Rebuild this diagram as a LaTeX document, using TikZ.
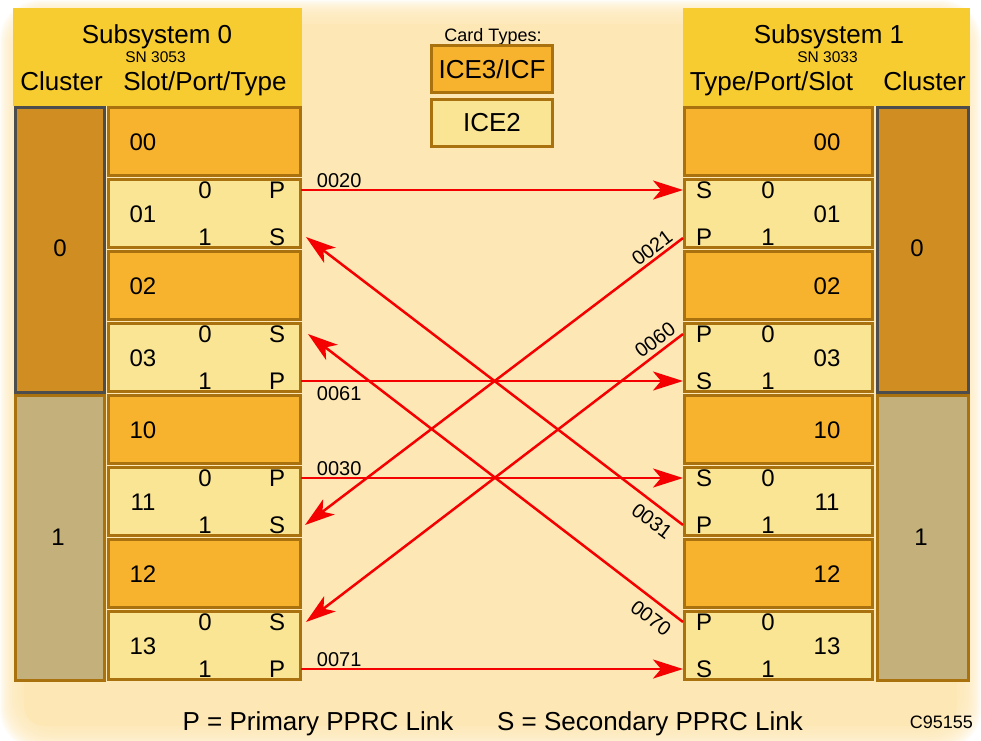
\documentclass[tikz,border=0pt]{standalone}
\usepackage{fontspec}
\setmainfont{Liberation Sans}
\usetikzlibrary{arrows.meta,calc}
\definecolor{peach}{HTML}{FDE7B5}
\definecolor{hdr}{HTML}{F6CC30}
\definecolor{icethree}{HTML}{F8B32E}
\definecolor{icetwo}{HTML}{FAE594}
\definecolor{bord}{HTML}{A9720F}
\definecolor{clzero}{HTML}{D08E22}
\definecolor{clone}{HTML}{C4B07A}
\definecolor{grayb}{HTML}{4D4D4D}
\definecolor{linkred}{HTML}{F50000}
\begin{document}
\begin{tikzpicture}[x=1pt,y=-1pt,
  slotbox/.style={draw=bord, line width=3pt, minimum width=192, minimum height=68, inner sep=0, outer sep=0, anchor=north west},
  rslotbox/.style={slotbox, minimum width=188},
  clbox/.style={line width=3pt, minimum width=89, inner sep=0, outer sep=0, anchor=north west},
  hdrbox/.style={fill=hdr, inner sep=0, outer sep=0, anchor=north west},
  big/.style={font=\fontsize{26}{30}\selectfont, inner sep=0, anchor=base},
  small/.style={font=\fontsize{15.5}{18}\selectfont, inner sep=0, anchor=base},
  txt/.style={font=\fontsize{24}{28}\selectfont, inner sep=0},
  lbl/.style={font=\fontsize{20}{24}\selectfont, inner sep=1pt},
  link/.style={draw=linkred, line width=2.5pt, -{Stealth[length=30pt,width=19pt,inset=8pt]}}
]
\useasboundingbox (0,0) rectangle (981,740);
% soft background panel
\foreach \i in {0,...,24}
  \fill[peach, fill opacity=0.1, rounded corners=40] (\i,\i) rectangle ({981-\i},{750-\i});
\fill[peach, rounded corners=20] (24,24) rectangle (957,726);

% headers
\node[hdrbox, minimum width=289, minimum height=98] (hl) at (13,8) {};
\node[hdrbox, minimum width=287, minimum height=98] (hr) at (683,8) {};
\node[big] (sub0) at (157,43) {Subsystem 0};
\node[small] (sn0) at (155.5,62) {SN 3053};
\node[big] (clL) at (61.5,90) {Cluster};
\node[big] (spt) at (205,90) {Slot/Port/Type};
\node[big] (sub1) at (829,43) {Subsystem 1};
\node[small] (sn1) at (827.5,62) {SN 3033};
\node[big] (tps) at (771.5,90) {Type/Port/Slot};
\node[big] (clR) at (924.5,90) {Cluster};

% legend
\node[font=\fontsize{18}{22}\selectfont, inner sep=0, anchor=base] (ct) at (493,41) {Card Types:};
\node[draw=bord, fill=icethree, line width=3pt, minimum width=121, minimum height=47, inner sep=0, font=\fontsize{26}{30}\selectfont] (lg3) at (492,69) {ICE3/ICF};
\node[draw=bord, fill=icetwo, line width=3pt, minimum width=121, minimum height=47, inner sep=0, font=\fontsize{26}{30}\selectfont] (lg2) at (492,123) {ICE2};

% clusters
\node[clbox, draw=grayb, fill=clzero, minimum height=285] (LC0) at (15.5,107.5) {};
\node[clbox, draw=bord, fill=clone, minimum height=285] (LC1) at (15.5,395.5) {};
\node[clbox, draw=grayb, fill=clzero, minimum height=285, minimum width=91] (RC0) at (877.5,107.5) {};
\node[clbox, draw=bord, fill=clone, minimum height=285, minimum width=91] (RC1) at (877.5,395.5) {};
\node[txt] (lc0t) at (60,248) {0};
\node[txt] (lc1t) at (58,537) {1};
\node[txt] (rc0t) at (917,248) {0};
\node[txt] (rc1t) at (921,537) {1};

% slots
\foreach \n/\k [count=\r from 0] in {00/icethree,01/icetwo,02/icethree,03/icetwo,10/icethree,11/icetwo,12/icethree,13/icetwo}{
  \node[slotbox, fill=\k] (L\n) at (108.5,{107.5+72*\r}) {};
  \node[rslotbox, fill=\k] (R\n) at (684.5,{107.5+72*\r}) {};
  \node[txt] (L\n t) at (143,{106+72*\r+36}) {\n};
  \node[txt] (R\n t) at (827,{106+72*\r+36}) {\n};
}
% ports
\foreach \n/\a/\b/\c/\d [count=\q from 0] in {01/P/S/S/P,03/S/P/P/S,11/P/S/S/P,13/S/P/P/S}{
  \node[txt] (L\n d0) at (205,{106+72*(2*\q+1)+12}) {0};
  \node[txt] (L\n d1) at (205,{106+72*(2*\q+1)+59}) {1};
  \node[txt] (L\n s0) at (277,{106+72*(2*\q+1)+12}) {\a};
  \node[txt] (L\n s1) at (277,{106+72*(2*\q+1)+59}) {\b};
  \node[txt] (R\n d0) at (768,{106+72*(2*\q+1)+12}) {0};
  \node[txt] (R\n d1) at (768,{106+72*(2*\q+1)+59}) {1};
  \node[txt] (R\n s0) at (704,{106+72*(2*\q+1)+12}) {\c};
  \node[txt] (R\n s1) at (704,{106+72*(2*\q+1)+59}) {\d};
}

% port coordinates
\coordinate (L01a) at (301,190);
\coordinate (L03b) at (301,381);
\coordinate (L11a) at (301,478);
\coordinate (L13b) at (301,669);
\coordinate (L01be) at (306,237);
\coordinate (L03ae) at (308,334);
\coordinate (L11be) at (305,525);
\coordinate (L13ae) at (306,622);
\coordinate (R01a) at (683,190);
\coordinate (R01b) at (683,238);
\coordinate (R03a) at (683,334);
\coordinate (R03b) at (683,381);
\coordinate (R11a) at (683,478);
\coordinate (R11b) at (683,525);
\coordinate (R13a) at (683,622);
\coordinate (R13b) at (683,669);

% links
\draw[link] (L01a) -- node[lbl, pos=0.1, above] (t0020) {0020} (R01a);
\draw[link] (R01b) -- (L11be);
\draw[link] (R03a) -- (L13ae);
\draw[link] (L03b) -- node[lbl, pos=0.1, below=3pt] (t0061) {0061} (R03b);
\draw[link] (L11a) -- node[lbl, pos=0.1, above] (t0030) {0030} (R11a);
\draw[link] (R11b) -- (L01be);
\draw[link] (R13a) -- (L03ae);
\draw[link] (L13b) -- node[lbl, pos=0.1, above] (t0071) {0071} (R13b);
\node[lbl, rotate=37] (t0021) at (652,248) {0021};
\node[lbl, rotate=37] (t0060) at (655,340) {0060};
\node[lbl, rotate=-37] (t0031) at (652,521) {0031};
\node[lbl, rotate=-37] (t0070) at (651,618) {0070};

% footer
\node[big] (fp) at (318,730) {P = Primary PPRC Link};
\node[big] (fs) at (650,730) {S = Secondary PPRC Link};
\node[font=\fontsize{18}{22}\selectfont, inner sep=0, anchor=base east] (code) at (973,728) {C95155};
\end{tikzpicture}
\end{document}
